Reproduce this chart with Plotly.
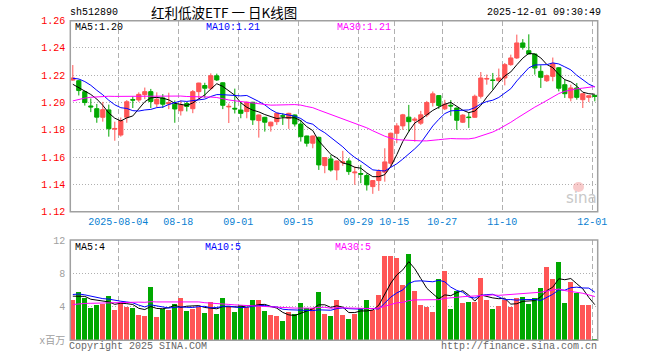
import math
import pandas as pd
import plotly.graph_objects as go

W, H = 660, 360

# ---------------- data ----------------
dates = [d.strftime("%Y-%m-%d") for d in pd.bdate_range("2025-07-23", "2025-12-01")
         if not ("2025-10-01" <= d.strftime("%Y-%m-%d") <= "2025-10-08")]

opens = [1.2165, 1.2160, 1.2080, 1.1975, 1.1955, 1.1892, 1.1946, 1.1805, 1.1762, 1.1892,
         1.2022, 1.2019, 1.2058, 1.2080, 1.1990, 1.2034, 1.1990, 1.1988, 1.1940, 1.1993,
         1.1955, 1.2080, 1.2125, 1.2105, 1.2196, 1.2145, 1.1968, 1.1958, 1.1945, 1.1934,
         1.2002, 1.1868, 1.1892, 1.1829, 1.1860, 1.1904, 1.1885, 1.1909, 1.1843, 1.1755,
         1.1702, 1.1745, 1.1538, 1.1587, 1.1506, 1.1560, 1.1572, 1.1485, 1.1480, 1.1465,
         1.1384, 1.1428, 1.1490, 1.1555, 1.1775, 1.1829, 1.1893, 1.1870, 1.1849, 1.1910,
         1.2000, 1.2051, 1.1954, 1.1980, 1.1960, 1.1856, 1.1894, 1.1892, 1.2046, 1.2172,
         1.2166, 1.2160, 1.2180, 1.2278, 1.2327, 1.2437, 1.2380, 1.2356, 1.2229, 1.2160,
         1.2192, 1.2255, 1.2131, 1.2034, 1.2107, 1.2021, 1.2038, 1.2053]
highs = [1.2275, 1.2168, 1.2087, 1.2030, 1.1990, 1.2005, 1.1985, 1.1860, 1.1890, 1.2018,
         1.2045, 1.2075, 1.2110, 1.2100, 1.2075, 1.2062, 1.2072, 1.2015, 1.2015, 1.2005,
         1.2092, 1.2145, 1.2145, 1.2214, 1.2212, 1.2148, 1.1993, 1.2102, 1.1998, 1.2007,
         1.2005, 1.1912, 1.1895, 1.1860, 1.1925, 1.1921, 1.1925, 1.1912, 1.1873, 1.1757,
         1.1758, 1.1750, 1.1600, 1.1616, 1.1575, 1.1646, 1.1592, 1.1531, 1.1543, 1.1480,
         1.1430, 1.1511, 1.1665, 1.1780, 1.1849, 1.1917, 1.1983, 1.1893, 1.1939, 1.2012,
         1.2081, 1.2053, 1.2020, 1.2018, 1.1962, 1.1915, 1.1924, 1.2058, 1.2224, 1.2205,
         1.2217, 1.2249, 1.2290, 1.2351, 1.2498, 1.2465, 1.2500, 1.2358, 1.2273, 1.2205,
         1.2330, 1.2260, 1.2168, 1.2131, 1.2143, 1.2070, 1.2051, 1.2055]
lows = [1.2160, 1.2052, 1.1978, 1.1930, 1.1852, 1.1860, 1.1750, 1.1720, 1.1750, 1.1852,
        1.1960, 1.2005, 1.2025, 1.1960, 1.1965, 1.1960, 1.1952, 1.1852, 1.1905, 1.1935,
        1.1922, 1.2025, 1.2035, 1.2090, 1.2158, 1.1952, 1.1850, 1.1920, 1.1885, 1.1885,
        1.1836, 1.1743, 1.1787, 1.1787, 1.1836, 1.1836, 1.1807, 1.1824, 1.1714, 1.1677,
        1.1665, 1.1506, 1.1482, 1.1494, 1.1431, 1.1536, 1.1470, 1.1397, 1.1409, 1.1355,
        1.1331, 1.1353, 1.1420, 1.1526, 1.1702, 1.1800, 1.1787, 1.1714, 1.1836, 1.1893,
        1.1971, 1.1954, 1.1945, 1.1903, 1.1800, 1.1850, 1.1814, 1.1888, 1.2030, 1.2131,
        1.2095, 1.2151, 1.2126, 1.2270, 1.2320, 1.2388, 1.2353, 1.2205, 1.2107, 1.2151,
        1.2156, 1.2082, 1.2034, 1.2009, 1.2021, 1.1960, 1.2004, 1.2009]
closes = [1.2180, 1.2088, 1.2000, 1.1968, 1.1893, 1.1948, 1.1808, 1.1810, 1.1867, 1.2006,
          1.2018, 1.2060, 1.2080, 1.2008, 1.2024, 1.1988, 1.1999, 1.1953, 1.1982, 1.1972,
          1.2080, 1.2143, 1.2105, 1.2197, 1.2166, 1.1980, 1.1972, 1.1953, 1.1921, 1.2002,
          1.1873, 1.1909, 1.1856, 1.1856, 1.1921, 1.1900, 1.1921, 1.1843, 1.1750, 1.1702,
          1.1755, 1.1543, 1.1597, 1.1506, 1.1572, 1.1565, 1.1494, 1.1490, 1.1475, 1.1397,
          1.1428, 1.1494, 1.1565, 1.1775, 1.1829, 1.1910, 1.1860, 1.1878, 1.1910, 1.2000,
          1.2064, 1.1978, 1.1988, 1.1975, 1.1870, 1.1908, 1.1890, 1.2046, 1.2180, 1.2176,
          1.2162, 1.2180, 1.2278, 1.2327, 1.2437, 1.2405, 1.2356, 1.2253, 1.2185, 1.2197,
          1.2287, 1.2105, 1.2065, 1.2107, 1.2038, 1.2065, 1.2050, 1.2045]
volumes = [4.88, 5.80, 5.08, 3.88, 4.28, 4.40, 5.32, 3.64, 4.56, 4.00,
           3.88, 3.04, 2.92, 6.40, 2.80, 3.72, 3.68, 4.40, 5.08, 3.52,
           3.76, 4.00, 3.28, 4.64, 3.16, 5.08, 4.00, 3.40, 4.24, 3.96,
           4.88, 4.88, 3.52, 3.04, 2.92, 2.32, 3.40, 3.16, 4.48, 3.92,
           3.88, 5.80, 3.16, 2.92, 4.88, 3.08, 2.56, 3.16, 3.88, 4.88,
           3.64, 5.44, 10.12, 10.12, 9.80, 6.64, 10.36, 5.88, 4.28, 3.96,
           3.40, 7.28, 8.24, 3.80, 5.84, 4.52, 4.64, 4.64, 7.48, 4.84,
           3.76, 4.16, 4.88, 4.00, 5.08, 5.20, 4.36, 5.08, 6.28, 8.80,
           7.28, 9.40, 4.48, 7.00, 5.68, 4.24, 4.24, 0.16]

# sessions before the visible window (needed for the moving averages)
prev_closes = [1.172, 1.175, 1.178, 1.179, 1.181, 1.183, 1.184, 1.186, 1.195, 1.199,
               1.202, 1.204, 1.199, 1.201, 1.198, 1.199, 1.203, 1.205, 1.207, 1.208,
               1.214, 1.219, 1.224, 1.226, 1.228, 1.221, 1.214, 1.208, 1.206]
prev_volumes = [3.2, 3.8, 3.4, 3.6, 3.9, 3.3, 3.5, 3.7, 3.4, 3.6,
                3.9, 3.6, 4.1, 3.7, 3.5, 4.0, 3.8, 3.6, 4.2, 3.8,
                5.2, 6.1, 5.5, 6.0, 5.6, 5.9, 5.1, 5.6, 4.92]

tick_dates = ["2025-08-04", "2025-08-18", "2025-09-01", "2025-09-15", "2025-09-29",
              "2025-10-15", "2025-10-27", "2025-11-10", "2025-12-01"]
tick_texts = ["2025-08-04", "08-18", "09-01", "09-15", "09-29", "10-15", "10-27", "11-10", "12-01"]
price_ticks = [1.12, 1.14, 1.16, 1.18, 1.20, 1.22, 1.24, 1.26]
vol_ticks = [0, 4, 8, 12]
vol_tick_texts = ["x百万", "4", "8", "12"]

symbol = "sh512890"
title = "红利低波ETF 一 日K线图"
stamp = "2025-12-01 09:30:49"

# ---------------- derived ----------------
def ma(prev, vals, n):
    full = prev + vals
    k = len(prev)
    return [sum(full[k + i - n + 1:k + i + 1]) / n for i in range(len(vals))]

ma5 = ma(prev_closes, closes, 5)
ma10 = ma(prev_closes, closes, 10)
ma30 = ma(prev_closes, closes, 30)
vma5 = ma(prev_volumes, volumes, 5)
vma10 = ma(prev_volumes, volumes, 10)
vma30 = ma(prev_volumes, volumes, 30)

def trunc2(v):
    return "%.2f" % (math.floor(v * 100 + 1e-9) / 100)

def trunc0(v):
    return "%d" % math.floor(v + 1e-9)

n = len(closes)
xs = list(range(n))
RED = "#ff5555"
GREEN = "#00a800"
vcolors = [RED if c >= o else GREEN for o, c in zip(opens, closes)]

# ---------------- geometry (pixels) ----------------
L, R = 70.3, 597.7
PT, PB = 20.7, 211.7
VT, VB = 240.0, 340.3
SLOT = 6.0
C0 = 72.8  # centre of first candle
xr = [(L - C0) / SLOT, (R - C0) / SLOT]
edge = 2.5 / SLOT
tickpos = [dates.index(d) - edge for d in tick_dates]

def px(x):
    return x / W

def py(y):
    return 1 - y / H

MONO = "Liberation Mono, DejaVu Sans Mono, monospace"
CJK = "Noto Sans CJK SC, sans-serif"
GRID = "#b0b0b0"

fig = go.Figure()

fig.add_trace(go.Candlestick(
    x=xs, open=opens, high=highs, low=lows, close=closes,
    increasing=dict(line=dict(color=RED, width=1), fillcolor=RED),
    decreasing=dict(line=dict(color=GREEN, width=1), fillcolor=GREEN),
    whiskerwidth=0, xaxis="x", yaxis="y", showlegend=False))
for series, col in [(ma5, "black"), (ma10, "#0000ff"), (ma30, "#ff00ff")]:
    fig.add_trace(go.Scatter(x=xs, y=series, mode="lines", line=dict(color=col, width=1),
                             xaxis="x", yaxis="y", showlegend=False, hoverinfo="skip"))

fig.add_trace(go.Bar(x=xs, y=volumes, marker=dict(color=vcolors, line=dict(width=0)),
                     width=0.83, xaxis="x2", yaxis="y2", showlegend=False))
for series, col in [(vma5, "black"), (vma10, "#0000ff"), (vma30, "#ff00ff")]:
    fig.add_trace(go.Scatter(x=xs, y=series, mode="lines", line=dict(color=col, width=1),
                             xaxis="x2", yaxis="y2", showlegend=False, hoverinfo="skip"))

xcommon = dict(range=xr, domain=[px(L), px(R)], tickmode="array", tickvals=tickpos,
               showgrid=True, gridcolor=GRID, gridwidth=1, griddash="5px,3px",
               zeroline=False, showline=False, ticks="", fixedrange=True, automargin=False)

fig.update_layout(
    template="none",
    width=W, height=H, margin=dict(l=0, r=0, t=0, b=0, pad=0, autoexpand=False),
    paper_bgcolor="white", plot_bgcolor="white",
    boxgap=0.3, boxgroupgap=0, bargap=0, barmode="overlay",
    xaxis=dict(**xcommon, ticktext=tick_texts, anchor="y",
               tickfont=dict(family=MONO, size=10, color="#0a7fd2"),
               rangeslider=dict(visible=False), ticklabelstandoff=2),
    xaxis2=dict(**xcommon, showticklabels=False, anchor="y2"),
    yaxis=dict(range=[1.12, 1.26], domain=[py(PB), py(PT)], tickmode="array",
               tickvals=price_ticks, ticktext=["%.2f" % v for v in price_ticks],
               tickfont=dict(family=MONO, size=10, color="#ff0000"),
               showgrid=True, gridcolor=GRID, griddash="1px,2px", gridwidth=1,
               zeroline=False, showline=False, ticks="", ticklabelstandoff=4,
               anchor="x", automargin=False, fixedrange=True),
    yaxis2=dict(range=[0, 12], domain=[py(VB), py(VT)], tickmode="array",
                tickvals=vol_ticks, ticktext=vol_tick_texts,
                tickfont=dict(family=MONO + ", " + CJK, size=10, color="#a0a0a0"),
                showgrid=True, gridcolor=GRID, griddash="1px,2px", gridwidth=1,
                zeroline=False, showline=False, ticks="", ticklabelstandoff=4,
                anchor="x2", automargin=False, fixedrange=True),
)

# panel frames
for top, bot in [(PT, PB), (VT, VB)]:
    fig.add_shape(type="rect", xref="paper", yref="paper", x0=px(L), x1=px(R),
                  y0=py(bot), y1=py(top), line=dict(color="#a0a0a0", width=1.5),
                  fillcolor="rgba(0,0,0,0)", layer="above")

def note(text, x, y, anchor="left", color="black", size=10, family=MONO, **kw):
    fig.add_annotation(text=text, x=px(x), y=py(y), xref="paper", yref="paper",
                       xanchor=anchor, yanchor="middle", showarrow=False, borderpad=0,
                       font=dict(family=family, size=size, color=color), **kw)

note(symbol, 69, 12.5)
note(title, 224, 11.5, anchor="center", size=13.5, family=CJK)
note(stamp, 602, 12.5, anchor="right")
note("MA5:" + trunc2(ma5[-1]), 74, 27.5)
note("MA10:" + trunc2(ma10[-1]), 205, 27.5, color="#0000ff")
note("MA30:" + trunc2(ma30[-1]), 336, 27.5, color="#ff00ff")
note("MA5:" + trunc0(vma5[-1]), 74, 247)
note("MA10:" + trunc0(vma10[-1]), 204, 247, color="#0000ff")
note("MA30:" + trunc0(vma30[-1]), 334, 247, color="#ff00ff")
note("Copyright 2025 SINA.COM", 68, 346, color="#666666")
note("http://finance.sina.com.cn", 598, 346, anchor="right", color="#666666")

# sina watermark
fig.add_shape(type="circle", xref="paper", yref="paper", x0=px(573), x1=px(584),
              y0=py(192), y1=py(182), line=dict(width=0), fillcolor="rgba(240,140,140,0.45)")
note("sina", 581, 198, anchor="center", color="#c8c8c8", size=15,
     family="DejaVu Sans, sans-serif")

fig.write_html("out.html", config={"displayModeBar": False})

# remove the browser's default page margin so the figure sits at the window origin
with open("out.html", encoding="utf-8") as fh:
    page = fh.read()
page = page.replace("<body>", '<body style="margin:0;padding:0;overflow:hidden">', 1)
with open("out.html", "w", encoding="utf-8") as fh:
    fh.write(page)
